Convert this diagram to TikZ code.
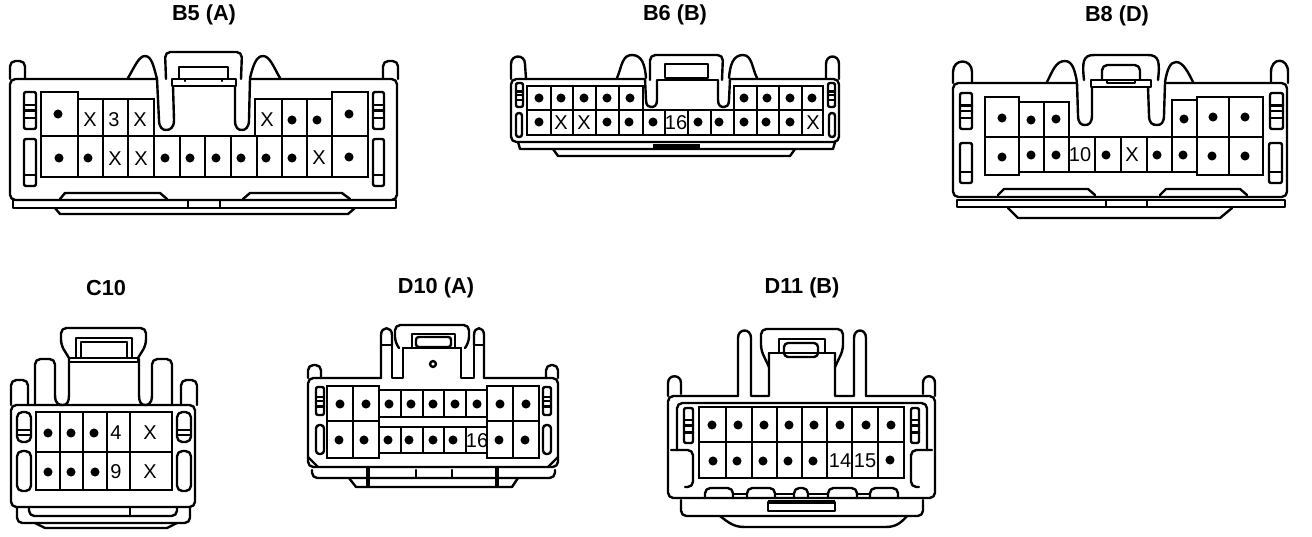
\documentclass[tikz,border=0pt]{standalone}
\usepackage{fontspec}
\setmainfont{Liberation Sans}
\newcommand{\pinsat}[1]{\foreach \px/\py in {#1} \fill (\px,\py) circle[radius=3.4pt];}
\newcommand{\marksat}[1]{\foreach \px/\py/\pt in {#1} \node[pinmark] (m\px-\py) at (\px,\py) {\pt};}
\newcommand{\slotA}[4]{\draw[ln,rounded corners=1.5pt] (#1,#2) rectangle (#3,#4);
  \pgfmathsetmacro\tka{#2+0.35*(#4-#2)}\pgfmathsetmacro\tkb{#2+0.5*(#4-#2)}\pgfmathsetmacro\tkc{#2+0.7*(#4-#2)}
  \draw[ln] (#1,\tka) -- (#3,\tka) (#1,\tkb) -- (#3,\tkb) (#1,\tkc) -- (#3,\tkc);}
\newcommand{\slotB}[5]{\draw[ln,rounded corners=1.5pt] (#1,#2) rectangle (#3,#4);
  \draw[ln] (#1,#5) -- (#3,#5);}
\tikzset{
  ln/.style={line width=1.8pt,line join=round,line cap=round},
  gridln/.style={line width=2.2pt,line join=miter},
  rln/.style={ln,rounded corners=4pt},
  lab/.style={font=\bfseries\fontsize{16.3}{16}\selectfont,inner sep=0pt},
  pinmark/.style={font=\fontsize{15}{15}\selectfont,inner sep=0pt}
}
\begin{document}
\begin{tikzpicture}[x=0.75pt,y=-0.75pt]
\useasboundingbox (0,0) rectangle (1312,536);
\fill[white] (0,0) rectangle (1312,536);
% ---------- B5
\node[lab] (tb5) at (204,15) {B5 (A)};
\draw[rln] (157,79) -- (10,79) -- (10,200) -- (397,200) -- (397,79) -- (250,79);
\draw[ln] (157,79) -- (159,120) .. controls (159,128) and (163,130) .. (166,130) .. controls (170,130) and (174,128) .. (174,120) -- (173,86);
\draw[ln] (250,79) -- (249,120) .. controls (249,128) and (245,130) .. (242,130) .. controls (238,130) and (235,128) .. (235,120) -- (235,86);
\draw[rln] (10,79) -- (10,61) -- (25,61) -- (25,79);
\draw[rln] (383,79) -- (383,61) -- (398,61) -- (398,79);
\draw[ln] (128,78) .. controls (135,66) and (139,56) .. (145,56) .. controls (152,56) and (154,68) .. (157,79);
\draw[ln] (250,78) .. controls (253,66) and (256,56) .. (263,56) .. controls (270,56) and (274,68) .. (280,78);
\draw[rln] (166,79) -- (165,52) -- (242,52) -- (241,79);
\draw[ln] (179,79) -- (179,67) -- (228,67) -- (228,79);
\draw[ln] (172,79) -- (236,79) -- (236,86) -- (172,86) -- cycle;
\draw[ln] (185,80) -- (185,81) (222,80) -- (222,81);
\draw[ln] (13,200) rectangle (396,208);
\draw[ln] (188,200) -- (188,208) (220,200) -- (220,208);
\draw[ln] (55,208) -- (60,214) -- (348,214) -- (355,208);
\draw[ln] (60,199) -- (65,193) -- (160,193) -- (167,199);
\draw[ln] (243,199) -- (250,193) -- (342,193) -- (350,199);
\slotA{24}{92}{36}{129} \slotB{24}{139}{36}{186}{175}
\slotA{373}{92}{384}{129} \slotB{373}{139}{384}{186}{175}
\draw[gridln] (154,137) -- (154,99) -- (78,99) -- (78,92) -- (41,92) -- (41,177) -- (368,177) -- (368,92) -- (332,92) -- (332,99) -- (255,99) -- (255,137);
\draw[gridln] (41,136) -- (368,136);
\foreach \v in {78,103,128} \draw[gridln] (\v,99) -- (\v,177);
\foreach \v in {282,307,332} \draw[gridln] (\v,99) -- (\v,177);
\foreach \v in {154,180,205,231,257} \draw[gridln] (\v,137) -- (\v,177);
\pinsat{58/114,292/120,317/120,349/114,59/158,88/158,165/158,190/158,216/158,241/158,266/158,292/158,349/157}
\marksat{90/120/X,114/120/3,140/120/X,267/120/X,115/159/X,141/159/X,319/158/X}
% ---------- B6
\node[lab] (tb6) at (675,15) {B6 (B)};
\draw[rln] (645,79) -- (511,79) -- (511,142) -- (839,142) -- (839,79) -- (730,79);
\draw[ln] (645,79) -- (646,100) .. controls (646,106) and (649,107) .. (651,107) .. controls (654,107) and (657,106) .. (657,100) -- (657,80);
\draw[ln] (730,79) -- (729,100) .. controls (729,106) and (726,107) .. (724,107) .. controls (721,107) and (718,106) .. (718,100) -- (718,80);
\draw[ln] (511,79) -- (511,64) .. controls (511,54) and (525,54) .. (525,64) -- (526,79);
\draw[ln] (826,79) -- (826,64) .. controls (826,54) and (839,54) .. (839,64) -- (839,79);
\draw[ln] (617,78) .. controls (622,66) and (622,55) .. (632,55) .. controls (642,55) and (645,65) .. (646,78);
\draw[ln] (729,78) .. controls (730,65) and (733,55) .. (743,55) .. controls (752,55) and (752,68) .. (757,78);
\draw[rln] (650,80) -- (650,55) -- (723,55) -- (722,80);
\draw[ln] (665,78) -- (665,64) -- (708,64) -- (708,78) -- cycle;
\draw[ln] (658,80) -- (717,80);
\draw[ln] (518,142) -- (520,149) -- (833,149) -- (835,142);
\draw[ln] (553,149) -- (558,156) -- (790,156) -- (795,149);
\fill (653,144) rectangle (700,148);
\slotA{516}{83}{523}{107} \draw[ln,rounded corners=2pt] (516,113) rectangle (522,137);
\slotA{828}{83}{835}{107} \draw[ln,rounded corners=2pt] (829,113) rectangle (835,137);
\draw[gridln] (643,110) -- (643,86) -- (527,86) -- (527,135) -- (823,135) -- (823,86) -- (734,86) -- (734,110);
\draw[gridln] (527,110) -- (823,110);
\foreach \v in {551,573,596,619} \draw[gridln] (\v,86) -- (\v,135);
\foreach \v in {757,779,802} \draw[gridln] (\v,86) -- (\v,135);
\foreach \v in {643,665,688,711,734} \draw[gridln] (\v,110) -- (\v,135);
\pinsat{539/98,561/98,584/98,607/98,630/98,744/98,767/98,790/98,812/98,539/122,607/122,629/122,653/122,698/122,719/122,744/122,766/122,790/122}
\marksat{561/123/X,584/123/X,676/123/16,813/123/X}
% ---------- B8
\node[lab] (tb8) at (1117,16) {B8 (D)};
\draw[rln] (1077,83) -- (953,83) -- (953,197) -- (1287,197) -- (1287,83) -- (1165,83);
\draw[ln] (1077,83) -- (1078,115) .. controls (1078,123) and (1081,125) .. (1085,125) .. controls (1089,125) and (1092,123) .. (1092,115) -- (1092,87);
\draw[ln] (1165,83) -- (1164,115) .. controls (1164,123) and (1161,125) .. (1157,125) .. controls (1152,125) and (1149,123) .. (1149,115) -- (1148,87);
\draw[ln] (953,83) -- (953,72) .. controls (953,58) and (972,58) .. (972,72) -- (972,83);
\draw[ln] (1271,83) -- (1271,72) .. controls (1271,57) and (1288,57) .. (1288,72) -- (1288,83);
\draw[ln] (1047,82) .. controls (1053,70) and (1056,61) .. (1065,61) .. controls (1073,61) and (1075,72) .. (1077,82);
\draw[ln] (1165,82) .. controls (1167,70) and (1170,62) .. (1176,62) .. controls (1183,62) and (1188,72) .. (1193,82);
\draw[ln] (1084,80) .. controls (1082,62) and (1083,55) .. (1094,55) -- (1148,55) .. controls (1159,55) and (1160,62) .. (1158,80);
\draw[rln] (1102,80) -- (1102,65) -- (1140,65) -- (1140,80);
\draw[ln] (1107,80) -- (1107,83) -- (1135,83) -- (1135,80);
\draw[ln] (1091,80) -- (1151,80) -- (1151,87) -- (1091,87) -- cycle;
\draw[ln] (957,200) rectangle (1285,207);
\draw[ln] (1106,200) -- (1106,207) (1147,200) -- (1147,207);
\draw[ln] (1008,208) -- (1018,218) -- (1220,218) -- (1232,208);
\draw[ln] (998,195) -- (1004,189) -- (1088,189) -- (1095,195);
\draw[ln] (1160,195) -- (1166,189) -- (1240,189) -- (1247,195);
\slotA{960}{93}{972}{129} \slotB{960}{143}{972}{183}{172}
\slotA{1270}{93}{1283}{129} \slotB{1269}{143}{1282}{183}{172}
\draw[gridln] (1069,137) -- (1069,102) -- (1019,102) -- (1019,97) -- (985,97) -- (985,175) -- (1019,175) -- (1019,172) -- (1197,172) -- (1197,175) -- (1263,175) -- (1263,97) -- (1197,97) -- (1197,100) -- (1172,100) -- (1172,137);
\draw[gridln] (985,137) -- (1263,137);
\draw[gridln] (1019,97) -- (1019,175) (1197,97) -- (1197,175) (1229,97) -- (1229,175) (1044,102) -- (1044,172);
\foreach \v in {1069,1095,1121,1147,1172} \draw[gridln] (\v,137) -- (\v,172);
\pinsat{1002/118,1031/120,1056/119,1184/119,1213/117,1245/117,1002/157,1031/155,1056/155,1106/155,1157/155,1183/155,1212/156,1245/156}
\marksat{1080/155/10,1132/155/X}
% ---------- C10
\node[lab] (tc10) at (106,288) {C10};
\draw[rln] (11,405) -- (11,507) -- (195,507) -- (195,405) -- cycle;
\draw[rln] (11,405) -- (11,380) -- (28,380) -- (28,405);
\draw[rln] (181,405) -- (181,380) -- (197,380) -- (197,405);
\draw[rln] (35,405) -- (35,359) -- (55,359) -- (55,395);
\draw[rln] (152,395) -- (152,359) -- (172,359) -- (172,405);
\draw[ln] (55,395) .. controls (55,405) and (60,405) .. (63,405) .. controls (67,405) and (69,402) .. (69,395) -- (69,359);
\draw[ln] (152,395) .. controls (152,405) and (147,405) .. (145,405) .. controls (141,405) and (139,402) .. (139,395) -- (139,359);
\draw[rln] (69,358) -- (61,345) -- (61,328) -- (146,328) -- (146,345) -- (138,358);
\draw[ln] (76,358) -- (76,338) -- (132,338) -- (132,358);
\draw[ln] (81,342) -- (127,342) (81,342) -- (81,358) (127,342) -- (127,358);
\draw[ln] (69,358) -- (138,358) -- (138,362) -- (69,362) -- cycle;
\draw[rln] (17,508) -- (17,523) -- (190,523) -- (190,508);
\draw[rln] (29,508) -- (29,516) -- (177,516) -- (177,508);
\draw[ln] (130,508) -- (130,516);
\draw[ln] (35,523) -- (45,528) -- (167,528) -- (177,523);
\draw[ln,rounded corners=4pt] (17,412) rectangle (31,442);
\draw[ln] (17,430) -- (31,430) (17,435) -- (31,435);
\draw[ln,rounded corners=4pt] (17,451) rectangle (31,491);
\draw[ln,rounded corners=4pt] (177,412) rectangle (191,442);
\draw[ln] (177,430) -- (191,430) (177,435) -- (191,435);
\draw[ln,rounded corners=4pt] (177,451) rectangle (191,491);
\draw[gridln] (36,412) rectangle (172,490);
\draw[gridln] (36,452) -- (172,452);
\foreach \v in {60,83,107,130} \draw[gridln] (\v,412) -- (\v,490);
\pinsat{48/433,71/433,94/433,48/472,71/472,95/472}
\marksat{116/433/4,150/433/X,116/472/9,150/472/X}
% ---------- D10
\node[lab] (td10) at (436,288) {D10 (A)};
\draw[rln] (381,378) -- (308,378) -- (308,467) -- (558,467) -- (558,378) -- (484,378);
\draw[ln] (308,457) -- (318,467) (558,457) -- (548,467);
\draw[rln] (308,378) -- (308,365) -- (321,365) -- (321,378);
\draw[rln] (546,378) -- (546,365) -- (558,365) -- (558,378);
\draw[ln] (381,378) -- (381,335) .. controls (381,326) and (392,326) .. (392,335) -- (392,345);
\draw[ln] (474,345) -- (474,335) .. controls (474,326) and (484,326) .. (484,335) -- (484,378);
\draw[ln] (381,345) -- (392,345) (474,345) -- (484,345);
\draw[ln] (392,345) -- (392,378) -- (403,378) -- (403,348);
\draw[ln] (474,345) -- (474,378) -- (461,378) -- (461,348);
\draw[rln] (399,348) -- (395,342) -- (395,325) -- (469,325) -- (469,342) -- (465,348);
\draw[ln] (412,348) -- (412,334) -- (455,334) -- (455,348);
\draw[ln,rounded corners=2pt] (416,337) rectangle (451,347);
\draw[ln] (403,348) -- (461,348);
\draw[ln] (433,364) circle[radius=2.2pt];
\draw[rln] (312,470) -- (312,478) -- (555,478) -- (555,470);
\draw[ln] (349,478) -- (356,487) -- (512,487) -- (518,478);
\draw[line width=2.6pt] (368,466) -- (368,487) (497,466) -- (497,487);
\draw[ln] (416,470) -- (416,477) (452,470) -- (452,477);
\slotA{316}{387}{324}{415} \draw[ln,rounded corners=2.5pt] (316,425) rectangle (324,454);
\slotA{543}{387}{551}{415} \draw[ln,rounded corners=2.5pt] (543,425) rectangle (551,454);
\draw[gridln] (327,386) rectangle (379,458);
\draw[gridln] (487,386) rectangle (539,458);
\draw[gridln] (327,421) -- (379,421) (487,421) -- (539,421);
\draw[gridln] (353,386) -- (353,458) (513,386) -- (513,458);
\draw[gridln] (379,390) rectangle (487,417);
\draw[gridln] (379,427) rectangle (487,453);
\foreach \v in {401,423,444,466} \draw[gridln] (\v,390) -- (\v,417) (\v,427) -- (\v,453);
\pinsat{340/404,366/404,389/404,411/404,433/404,455/404,477/404,500/404,526/404,339/440,364/440,388/440,409/440,433/440,453/440,499/440,525/440}
\marksat{477/441/16}
% ---------- D11
\node[lab] (td11) at (802,288) {D11 (B)};
\draw[rln] (738,396) -- (668,396) -- (668,498) -- (935,498) -- (935,396) -- (866,396);
\draw[ln] (668,396) -- (668,383) .. controls (668,374) and (681,374) .. (681,383) -- (681,394);
\draw[ln] (923,394) -- (923,383) .. controls (923,374) and (935,374) .. (935,383) -- (935,396);
\draw[ln] (738,396) -- (738,338) .. controls (738,328) and (751,328) .. (751,338) -- (751,396) -- (769,396) -- (769,353);
\draw[ln] (866,396) -- (866,338) .. controls (866,328) and (854,328) .. (854,338) -- (854,396) -- (835,396) -- (835,353);
\draw[rln] (769,367) -- (761,350) -- (761,329) -- (843,329) -- (843,350) -- (835,367);
\draw[ln] (779,353) -- (779,339) -- (825,339) -- (825,353);
\draw[ln,rounded corners=3pt] (784,343) rectangle (818,357);
\draw[ln] (769,353) -- (835,353);
\draw[rln] (677,450) -- (677,403) -- (927,403) -- (927,450);
\draw[rln] (681,500) -- (681,516) -- (923,516) -- (923,500);
\draw[ln] (720,516) .. controls (730,524) and (735,527) .. (745,527) -- (885,527) .. controls (895,527) and (900,524) .. (907,516);
\draw[ln] (768,502) rectangle (835,511);
\draw[line width=2.4pt] (768,502) -- (835,502);
\draw[rln] (705,498) -- (705,488) -- (733,488) -- (733,498);
\draw[rln] (747,498) -- (747,488) -- (775,488) -- (775,498);
\draw[rln] (794,498) -- (794,488) -- (808,488) -- (808,498);
\draw[rln] (828,498) -- (828,488) -- (857,488) -- (857,498);
\draw[rln] (870,498) -- (870,488) -- (898,488) -- (898,498);
\draw[ln] (733,494) -- (747,494) (775,494) -- (794,494) (808,494) -- (828,494) (857,494) -- (870,494);
\slotA{684}{408}{693}{443}
\draw[rln] (671,450) -- (693,450) -- (693,487) -- (685,487);
\slotA{911}{408}{919}{443}
\draw[rln] (932,450) -- (911,450) -- (911,487) -- (919,487);
\draw[gridln] (699,407) rectangle (904,478);
\draw[gridln] (699,442) -- (904,442);
\foreach \v in {726,752,777,802,827,852,878} \draw[gridln] (\v,407) -- (\v,478);
\pinsat{712/425,738/425,764/425,789/425,814/425,840/425,866/425,891/425,713/461,737/461,763/461,788/461,813/461,890/460}
\marksat{840/461/14,865/461/15}
\end{tikzpicture}
\end{document}
